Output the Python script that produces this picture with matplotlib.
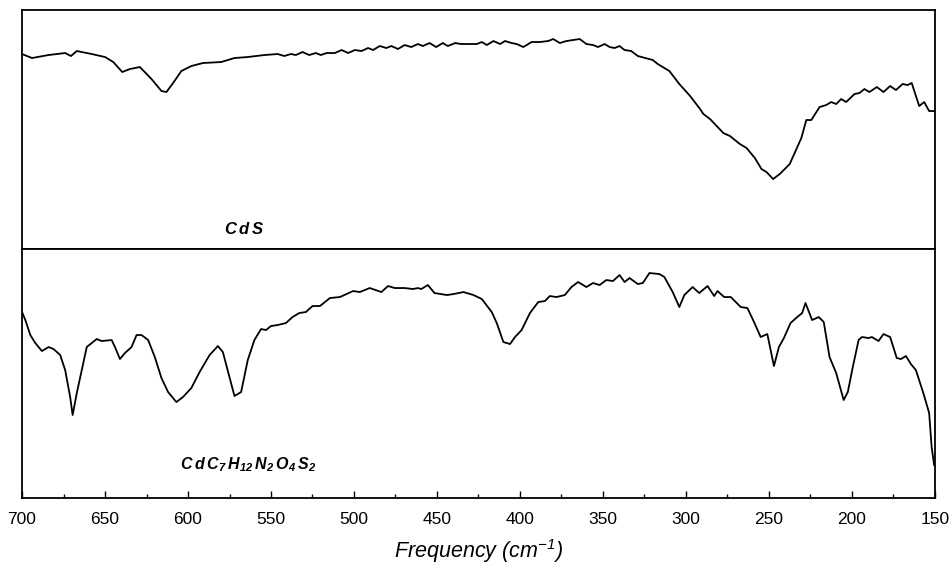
import matplotlib
matplotlib.use("Agg")
import matplotlib.pyplot as plt
from matplotlib.ticker import MultipleLocator

plt.rcParams['font.family'] = ['Liberation Sans', 'DejaVu Sans']
plt.rcParams['mathtext.fontset'] = 'custom'
plt.rcParams['mathtext.rm'] = 'Liberation Sans:italic'
plt.rcParams['mathtext.bf'] = 'Liberation Sans:bold:italic'

# CdS spectrum (frequency cm-1, transmittance arb. units)
cds_freq = [700, 694, 684, 674, 670.5, 667, 658, 650, 645, 639.6, 635, 629, 622, 616, 613, 609,
            604, 598, 591, 580, 572, 564, 554, 546, 542, 538, 535, 531, 527, 523, 520, 516.5,
            511.5, 507.5, 503.5, 499.5, 495.5, 491.5, 488.5, 484.5, 480.5, 477.5, 473.5, 469.5,
            465.5, 461.5, 458.5, 454.5, 450.5, 446.5, 443.5, 439, 435.5, 430, 426, 423, 420, 416,
            412, 409, 405, 402, 398, 393, 388, 383, 380, 376, 372, 368, 364, 360, 356, 353, 349,
            346, 343, 340, 337, 333, 329, 320, 317, 310, 304, 297.5, 291.5, 289.5, 285.5, 277.5,
            273.5, 267.5, 263.5, 258.5, 254.5, 251.5, 247.5, 243.5, 237.5, 230.5, 227.5, 224.5,
            219.5, 215.5, 212.5, 209.5, 206.5, 203.5, 198.5, 195.5, 192.5, 189.5, 185, 181, 177,
            173.5, 169.5, 166.5, 164, 159.5, 156.5, 153.5, 150]
cds_t = [195, 191, 194, 196, 193, 198, 195, 192, 187, 177, 180, 182, 170, 158, 157, 166,
         178, 183, 186, 187, 191, 192, 194, 195, 193, 195, 194, 197, 194, 196, 194, 196,
         196, 199, 196, 199, 198, 201, 199, 203, 201, 203, 200, 204,
         202, 205, 203, 206, 202, 206, 203, 206, 205, 205, 205, 207, 204, 208,
         205, 208, 206, 205, 202, 207, 207, 208, 210, 206, 208, 209, 210, 205, 204, 202, 205,
         202, 201, 203, 199, 198, 193, 189, 185, 178, 165, 153, 140, 135, 130, 116,
         113, 105, 101, 91, 80, 77, 70, 75, 85, 111, 129, 129,
         142, 144, 147, 145, 150, 147, 155, 156, 160, 157, 162, 157, 163,
         159, 165, 164, 166, 143, 147, 138, 138]

# CdC7H12N2O4S2 spectrum
cpx_freq = [700, 698, 695, 692, 688, 684, 681, 677, 674, 671, 669.5, 667, 664, 661, 655, 652,
            646, 644, 641, 638, 634, 631, 628, 624, 620, 616, 612, 607, 603, 598, 593, 587, 582,
            579, 575, 572, 568, 564, 560, 556, 553, 550, 546, 541, 537, 533, 529, 525, 520.5,
            514.5, 508.5, 500.5, 496.5, 490.5, 483.5, 479.5, 475.5, 469.5, 464.5, 461.5, 459.5,
            455.5, 451.5, 444, 440, 434, 428, 423, 417, 414, 410, 406, 403, 399, 394, 389, 385,
            382, 378, 373, 369, 365, 360, 356, 352, 348, 344, 340, 337, 334, 329, 326, 322, 316,
            313, 308, 304, 301, 296, 292, 287, 283, 281, 277, 273, 267, 263, 259, 255, 251, 247,
            244, 241, 237, 233, 230, 228, 224, 220, 217, 213.5, 209.5, 205, 202.5, 199.5, 196,
            194, 190, 188, 184, 181, 177, 173, 170.5, 167.5, 164.5, 161.5, 157, 153.5, 152, 150.5]
cpx_t = [186, 178, 163, 155, 147, 151, 149, 143, 128, 101, 83, 105, 128, 151, 159, 157,
         158, 151, 139, 145, 151, 163, 163, 158, 141, 120, 106, 96, 101, 110, 126, 143, 152,
         146, 121, 102, 106, 138, 158, 169, 168, 172, 173, 175, 181, 185, 186, 192, 192,
         200, 201, 207, 206, 210, 206, 212, 210, 210, 209, 210, 209,
         213, 205, 203, 204, 206, 203, 199, 186, 175, 156, 154, 161, 168, 185, 196, 197,
         202, 201, 203, 211, 216, 211, 215, 213, 218, 217, 223, 216, 220, 214, 215, 225, 224,
         221, 206, 191, 203, 211, 205, 212, 202, 207, 201, 201, 191, 190, 176, 161, 164, 132,
         151, 160, 175, 181, 185, 195, 178, 181, 176, 141, 125, 98, 106, 131, 158,
         161, 160, 161, 157, 164, 161, 140, 139, 142, 134, 128, 105, 85, 51, 33]

fig = plt.figure(figsize=(9.49, 5.66), dpi=100)
ax1 = fig.add_axes([0.0232, 0.560, 0.962, 0.4223])
ax2 = fig.add_axes([0.0232, 0.1201, 0.962, 0.4399], sharex=ax1)

ax1.plot(cds_freq, cds_t, color="black", lw=1.3)
ax2.plot(cpx_freq, cpx_t, color="black", lw=1.3)

ax1.set_ylim(0, 239)
ax2.set_ylim(0, 249)
ax1.set_xlim(700, 150)

for ax in (ax1, ax2):
    ax.set_yticks([])
    for s in ax.spines.values():
        s.set_linewidth(1.3)

ax1.tick_params(axis="x", which="both", bottom=False, labelbottom=False)
ax2.xaxis.set_major_locator(MultipleLocator(50))
ax2.xaxis.set_minor_locator(MultipleLocator(25))
ax2.tick_params(axis="x", which="major", direction="in", length=5, width=1, labelsize=12.5, pad=10)
ax2.tick_params(axis="x", which="minor", direction="in", length=3, width=1)

ax1.text(0.243, 0.084, r"$\mathbf{C\,d\,S}$", transform=ax1.transAxes, ha="center", va="center", fontsize=12)
ax2.text(0.248, 0.133, r"$\mathbf{C\,d\,C_7\,H_{12}\,N_2\,O_4\,S_2}$", transform=ax2.transAxes,
         ha="center", va="center", fontsize=11.5)

ax2.set_xlabel("Frequency (cm$^{-1}$)", fontstyle="italic", fontsize=15.5, labelpad=7)

fig.savefig("out.png", dpi=100)
